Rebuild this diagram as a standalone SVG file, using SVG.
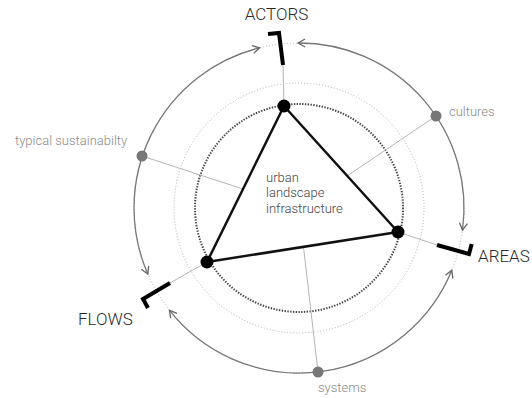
<svg xmlns="http://www.w3.org/2000/svg" width="532" height="398" viewBox="0 0 532 398">
  <style>
    text { font-family: Roboto, "Liberation Sans", sans-serif; font-weight: 300; }
    .big { font-size: 17px; fill: #2a2a2a; }
    .small { font-size: 13px; fill: #8a8a8a; }
    .core { font-size: 13px; fill: #444; }
    .ring-light { fill: none; stroke: #b0b0b0; stroke-width: 1; stroke-dasharray: 1 2; }
    .ring-dark { fill: none; stroke: #444; stroke-width: 2; stroke-dasharray: 1.4 1.4; }
    .cycle { fill: none; stroke: #777; stroke-width: 1.3; marker-start: url(#chev); marker-end: url(#chev); }
    .spoke { fill: none; stroke: #b5b5b5; stroke-width: 1; }
    .bracket { fill: none; stroke: #000; stroke-width: 4; stroke-linejoin: miter; stroke-linecap: butt; }
    .tri { fill: none; stroke: #111; stroke-width: 2.5; stroke-linejoin: round; }
    .vertex { fill: #000; }
    .dot { fill: #777; }
  </style>
  <defs>
    <marker id="chev" markerUnits="userSpaceOnUse" markerWidth="12" markerHeight="12" viewBox="-10 -6 12 12" refX="0" refY="0" orient="auto-start-reverse">
      <path d="M-7,-4 L0,0 L-7,4" fill="none" stroke="#666" stroke-width="1.3"/>
    </marker>
  </defs>

  <!-- rings -->
  <g id="rings">
    <circle class="ring-light" cx="299" cy="208" r="165"/>
    <circle class="ring-light" cx="299" cy="208" r="125"/>
    <circle class="ring-dark" cx="299" cy="208" r="104"/>
  </g>

  <!-- connectors: cycle arcs and spokes -->
  <g id="connectors">
    <path class="cycle" d="M298.1,43 A165,165 0 0 1 462.5,230.1"/>
    <path class="cycle" d="M451.8,270.3 A165,165 0 0 1 169.5,310.3"/>
    <path class="cycle" d="M147.8,274 A165,165 0 0 1 259.6,47.8"/>

    <line class="spoke" x1="284" y1="106" x2="283" y2="65"/>
    <line class="spoke" x1="398" y1="232" x2="437" y2="245"/>
    <line class="spoke" x1="207" y1="262" x2="170" y2="283"/>

    <line class="spoke" x1="436" y1="116" x2="347" y2="176"/>
    <line class="spoke" x1="142" y1="156" x2="243" y2="189"/>
    <line class="spoke" x1="318" y1="372" x2="303.5" y2="247"/>

    <polygon class="tri" points="284,106 398,232 207,262"/>
  </g>

  <g id="actors">
    <path class="bracket" d="M268,34 L279,33 L283,65"/>
    <circle class="vertex" cx="284" cy="106" r="6.5"/>
    <text class="big" x="276.5" y="20" text-anchor="middle">ACTORS</text>
  </g>

  <g id="areas">
    <path class="bracket" d="M437,245 L469,254 L471.7,244"/>
    <circle class="vertex" cx="398" cy="232" r="6.5"/>
    <text class="big" x="478" y="262">AREAS</text>
  </g>

  <g id="flows">
    <path class="bracket" d="M170,283 L143,299 L148,308"/>
    <circle class="vertex" cx="207" cy="262" r="6.5"/>
    <text class="big" x="78" y="325">FLOWS</text>
  </g>

  <g id="cultures">
    <circle class="dot" cx="436" cy="116" r="5.5"/>
    <text class="small" x="449" y="116">cultures</text>
  </g>

  <g id="typical-sustainability">
    <circle class="dot" cx="142" cy="156" r="5.5"/>
    <text class="small" x="15" y="145">typical sustainabilty</text>
  </g>

  <g id="systems">
    <circle class="dot" cx="318" cy="372" r="5.5"/>
    <text class="small" x="318" y="392">systems</text>
  </g>

  <g id="core">
    <text class="core" x="266" y="182">urban</text>
    <text class="core" x="266" y="197">landscape</text>
    <text class="core" x="266" y="213">infrastructure</text>
  </g>
</svg>
